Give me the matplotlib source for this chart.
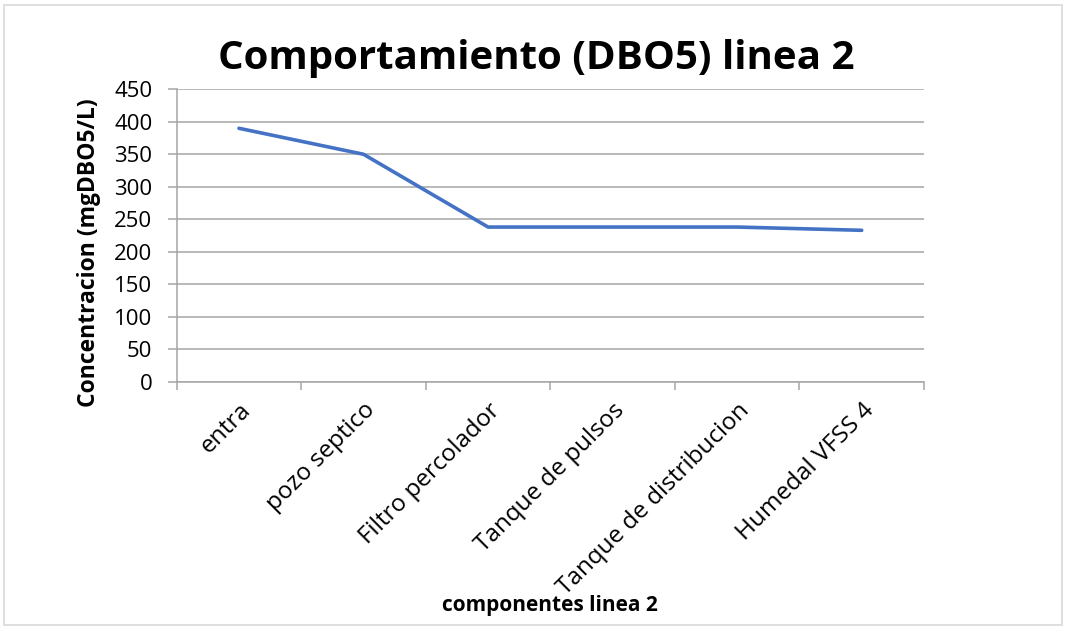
import matplotlib
matplotlib.use("Agg")
import matplotlib.pyplot as plt
import numpy as np
from matplotlib.patches import Rectangle

categories = ["entra", "pozo septico", "Filtro percolador", "Tanque de pulsos",
              "Tanque de distribucion", "Humedal VFSS 4"]
values = [390, 350, 238, 238, 238, 233]
yticks = [0, 50, 100, 150, 200, 250, 300, 350, 400, 450]

plt.rcParams['font.family'] = ['Open Sans', 'DejaVu Sans']

fig = plt.figure(figsize=(10.68, 6.26), dpi=100)
fig.patches.append(Rectangle((4/1068, 1-625/626), (1062-4)/1068, (625-5)/626,
                             transform=fig.transFigure, fill=False,
                             edgecolor='#d9d9d9', linewidth=1.2))

ax = fig.add_axes([176.7/1068, 1-381.7/626, (924-176.7)/1068, (381.7-89.3)/626])

x = np.arange(len(categories)) + 0.5
ax.plot(x, values, color='#4472C4', linewidth=2.6, solid_capstyle='round', zorder=3)

ax.set_xlim(0, len(categories))
ax.set_ylim(0, 450)
ax.set_yticks(yticks)
ax.set_yticklabels([str(v) for v in yticks], fontsize=16)
ax.yaxis.grid(True, color='#a6a6a6', linewidth=1.1)
ax.set_axisbelow(True)

ax.set_xticks(np.arange(len(categories) + 1))
ax.set_xticklabels([])
ax.set_xticks(x, minor=True)
ax.set_xticklabels(categories, minor=True, rotation=45, ha='right',
                   rotation_mode='anchor', fontsize=17.5)
ax.tick_params(axis='x', which='minor', length=0, pad=12)
ax.tick_params(axis='x', which='major', length=6, color='#a6a6a6', width=1.1)
ax.tick_params(axis='y', length=6.5, color='#a6a6a6', width=1.1, pad=11)

for s in ['top', 'right']:
    ax.spines[s].set_visible(False)
for s in ['left', 'bottom']:
    ax.spines[s].set_color('#a6a6a6')
    ax.spines[s].set_linewidth(1.1)

fig.text(89/1068, 1-253/626, "Concentracion (mgDBO5/L)", fontsize=16.5,
         fontweight='bold', rotation=90, ha='center', va='center')
fig.text(550/1068, 1-606/626, "componentes linea 2", fontsize=15, fontweight='bold',
         ha='center', va='center')
fig.text(536.5/1068, 1-58/626, "Comportamiento (DBO5) linea 2", fontsize=29,
         fontweight='bold', ha='center', va='center')

fig.savefig("out.png", dpi=100)
